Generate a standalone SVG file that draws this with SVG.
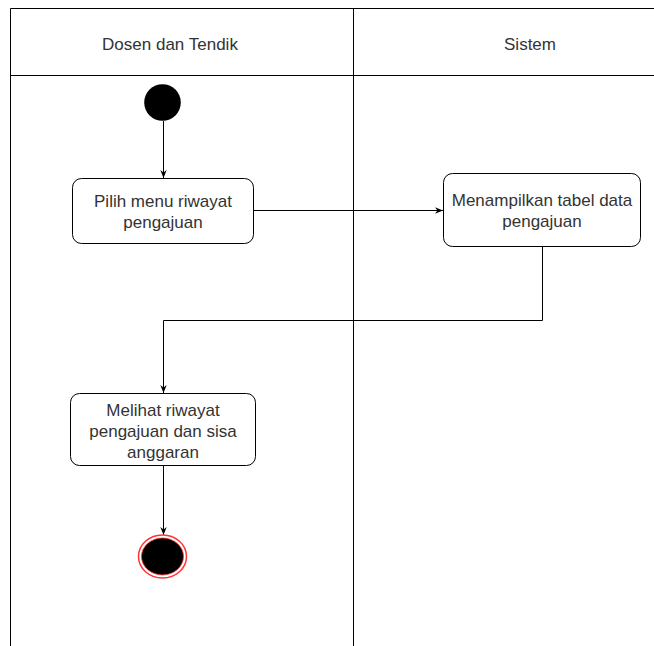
<svg xmlns="http://www.w3.org/2000/svg" width="654" height="646" viewBox="0 0 654 646">
<defs>
<style>
.lane{fill:none;stroke:#000;stroke-width:1}
.box{fill:#fff;stroke:#000;stroke-width:1}
.t{font-family:"Liberation Sans",Arial,sans-serif;font-size:17px;fill:#333;text-anchor:middle}
.c{fill:none;stroke:#000;stroke-width:1}
</style>
<marker id="ah" viewBox="0 0 10 10" refX="10" refY="5" markerWidth="8" markerHeight="8" orient="auto" markerUnits="userSpaceOnUse">
<path d="M0,1 L10,5 L0,9 L3,5 Z" fill="#000"/>
</marker>
</defs>
<rect width="654" height="646" fill="#fff"/>
<g id="lanes">
<path class="lane" d="M10.5,646 V8.5 H654 M353.5,8.5 V646 M10.5,75.5 H654"/>
<text class="t" x="170" y="50">Dosen dan Tendik</text>
<text class="t" x="530" y="50">Sistem</text>
</g>
<g id="connectors">
<path class="c" d="M163.5,121 V178" marker-end="url(#ah)"/>
<path class="c" d="M253,210.5 H443" marker-end="url(#ah)"/>
<path class="c" d="M542.5,246 V320.5 H163.5 V393" marker-end="url(#ah)"/>
<path class="c" d="M163.5,465 V535" marker-end="url(#ah)"/>
</g>
<g id="start">
<circle cx="162.5" cy="102.5" r="18.3" fill="#000"/>
</g>
<g id="n1">
<rect class="box" x="72.5" y="178.5" width="181" height="65" rx="9"/>
<text class="t" x="163" y="207">Pilih menu riwayat</text>
<text class="t" x="163" y="228">pengajuan</text>
</g>
<g id="n2">
<rect class="box" x="443.5" y="173.5" width="197" height="73" rx="9"/>
<text class="t" x="542" y="206">Menampilkan tabel data</text>
<text class="t" x="542" y="227">pengajuan</text>
</g>
<g id="n3">
<rect class="box" x="70.5" y="393.5" width="185" height="72" rx="9"/>
<text class="t" x="163" y="416">Melihat riwayat</text>
<text class="t" x="163" y="437">pengajuan dan sisa</text>
<text class="t" x="163" y="458">anggaran</text>
</g>
<g id="end">
<ellipse cx="162.5" cy="556.5" rx="24" ry="21.5" fill="#fff" stroke="#f33" stroke-width="1.5"/>
<ellipse cx="162.5" cy="556.5" rx="21" ry="18.5" fill="#000" stroke="#f33" stroke-width="0.8"/>
</g>
</svg>
